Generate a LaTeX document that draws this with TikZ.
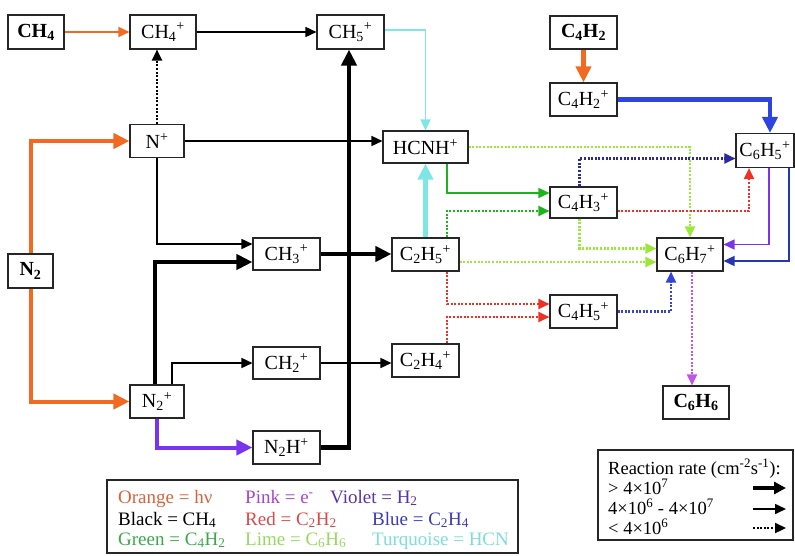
\documentclass[tikz,border=0pt]{standalone}
\usepackage{fontspec}
\setmainfont{Liberation Serif}
\usetikzlibrary{arrows.meta,calc}
\definecolor{cOrange}{HTML}{F26A21}
\definecolor{cTurq}{HTML}{7FE6E6}
\definecolor{cGreen}{HTML}{1DB31D}
\definecolor{cLime}{HTML}{9BE83A}
\definecolor{cRed}{HTML}{EE3124}
\definecolor{cBlue}{HTML}{2E44E0}
\definecolor{cNavy}{HTML}{2A2A9C}
\definecolor{cBlueDot}{HTML}{3344DD}
\definecolor{cViolet}{HTML}{7A33EE}
\definecolor{cPink}{HTML}{C055E8}
\definecolor{tOrange}{HTML}{D8643C}
\definecolor{tPink}{HTML}{A546C8}
\definecolor{tViolet}{HTML}{5A32A8}
\definecolor{tRed}{HTML}{D84A4A}
\definecolor{tBlue}{HTML}{3A3AB8}
\definecolor{tGreen}{HTML}{3AA84A}
\definecolor{tLime}{HTML}{98D860}
\definecolor{tTurq}{HTML}{7EDCDC}
\begin{document}
\begin{tikzpicture}[x=1pt,y=-1pt,
  box/.style={draw=black!85,line width=1.1pt,fill=white,inner sep=0pt,font=\fontsize{20}{22}\selectfont},
  bbox/.style={box,font=\fontsize{20}{22}\selectfont\bfseries},
  nrm/.style={line width=1.6pt,-{Triangle[length=11pt,width=10pt]}},
  thk/.style={line width=4.5pt,-{Triangle[length=16pt,width=15pt]}},
  dotl/.style={line width=2.2pt,dash pattern=on 2pt off 1.6pt,-{Triangle[length=11pt,width=10pt]}},
  legtxt/.style={anchor=base west,inner sep=0pt,font=\fontsize{19}{21}\selectfont},
  ratetxt/.style={anchor=base west,inner sep=0pt,font=\fontsize{18.5}{20}\selectfont},
  legbox/.style={draw=black!85,line width=1.4pt}]
\useasboundingbox (0,0) rectangle (795,555);
% nodes
\node[bbox,minimum width=56pt,minimum height=34pt] (CH4) at (36,32) {CH\textsubscript{4}};
\node[box,minimum width=66pt,minimum height=34pt] (CH4p) at (163,32) {CH\textsubscript{4}\textsuperscript{+}};
\node[box,minimum width=67pt,minimum height=34pt] (CH5p) at (350.5,32) {CH\textsubscript{5}\textsuperscript{+}};
\node[box,minimum width=54pt,minimum height=33pt] (Np) at (157,141) {N\textsuperscript{+}};
\node[box,minimum width=85pt,minimum height=32pt] (HCNH) at (425.5,147) {HCNH\textsuperscript{+}};
\node[bbox,minimum width=67pt,minimum height=33pt] (C4H2) at (583.5,32.5) {C\textsubscript{4}H\textsubscript{2}};
\node[box,minimum width=67pt,minimum height=33pt] (C4H2p) at (583.5,99.5) {C\textsubscript{4}H\textsubscript{2}\textsuperscript{+}};
\node[box,minimum width=58pt,minimum height=34pt] (C6H5p) at (765,150.5) {C\textsubscript{6}H\textsubscript{5}\textsuperscript{+}};
\node[box,minimum width=67pt,minimum height=31pt] (C4H3p) at (583.5,202.5) {C\textsubscript{4}H\textsubscript{3}\textsuperscript{+}};
\node[box,minimum width=67pt,minimum height=33pt] (C2H5p) at (425.5,254.5) {C\textsubscript{2}H\textsubscript{5}\textsuperscript{+}};
\node[box,minimum width=66pt,minimum height=33pt] (C6H7p) at (690,254.5) {C\textsubscript{6}H\textsubscript{7}\textsuperscript{+}};
\node[box,minimum width=67pt,minimum height=33pt] (C4H5p) at (583.5,311.5) {C\textsubscript{4}H\textsubscript{5}\textsuperscript{+}};
\node[box,minimum width=67pt,minimum height=33pt] (C2H4p) at (425.5,360.5) {C\textsubscript{2}H\textsubscript{4}\textsuperscript{+}};
\node[bbox,minimum width=66pt,minimum height=33pt] (C6H6) at (696,402.5) {C\textsubscript{6}H\textsubscript{6}};
\node[bbox,minimum width=45pt,minimum height=34pt] (N2) at (30.5,271) {N\textsubscript{2}};
\node[box,minimum width=67pt,minimum height=32pt] (CH3p) at (286.5,254) {CH\textsubscript{3}\textsuperscript{+}};
\node[box,minimum width=67pt,minimum height=32pt] (CH2p) at (286.5,363) {CH\textsubscript{2}\textsuperscript{+}};
\node[box,minimum width=54pt,minimum height=33pt] (N2p) at (157,401.5) {N\textsubscript{2}\textsuperscript{+}};
\node[box,minimum width=67pt,minimum height=33pt] (N2Hp) at (286.5,447.5) {N\textsubscript{2}H\textsuperscript{+}};
% connectors
\draw[nrm,cOrange] (CH4) -- (CH4p);
\draw[nrm] (CH4p) -- (CH5p);
\draw[dotl] (Np.north) -- (Np.north |- CH4p.south);
\draw[thk,cOrange,line width=4pt] (N2.north) |- (Np.west);
\draw[thk,cOrange,line width=4pt] (N2.south) |- (N2p.west);
\draw[nrm] (Np) -- (Np -| HCNH.west);
\draw[nrm] (Np.south) |- ($(CH3p.west)+(0,-10)$);
\draw[thk] ($(N2p.north)+(-2,0)$) |- ($(CH3p.west)+(0,8)$);
\draw[nrm] ($(N2p.north)+(15,0)$) |- (CH2p.west);
\draw[thk,cViolet,line width=4pt] (N2p.south) |- (N2Hp.west);
\draw[thk] (N2Hp.east) -| ($(CH5p.south)+(-1.5,0)$);
\draw[thk] (CH3p) -- (CH3p -| C2H5p.west);
\draw[nrm] (CH2p) -- (CH2p -| C2H4p.west);
\draw[nrm,cTurq] ($(CH5p.east)+(0,-2)$) -| (HCNH.north);
\draw[thk,cTurq] (C2H5p.north) -- (HCNH.south);
\draw[thk,cOrange] (C4H2) -- (C4H2p);
\draw[thk,cBlue] (C4H2p.east) -| ($(C6H5p.north)+(5,0)$);
\draw[nrm,cGreen] ($(HCNH.south)+(21.5,0)$) |- ($(C4H3p.west)+(0,-9.5)$);
\draw[dotl,cGreen] ($(C2H5p.north)+(21.5,0)$) |- ($(C4H3p.west)+(0,8.5)$);
\draw[dotl,cLime] (HCNH.east) -| (C6H7p.north);
\draw[dotl,cNavy] ($(C4H3p.north)+(-4,0)$) |- ($(C6H5p.west)+(0,8)$);
\draw[dotl,cRed] ($(C4H3p.east)+(0,8.5)$) -| ($(C6H5p.south)+(-16,0)$);
\draw[dotl,cLime] ($(C4H3p.south)+(-4,0)$) |- ($(C6H7p.west)+(0,-6)$);
\draw[dotl,cLime] ($(C2H5p.east)+(0,7.5)$) -- ($(C6H7p.west)+(0,7.5)$);
\draw[nrm,cViolet] ($(C6H5p.south)+(4,0)$) |- ($(C6H7p.east)+(0,-10)$);
\draw[nrm,cBlue!80!black] ($(C6H5p.south)+(24,0)$) |- ($(C6H7p.east)+(0,6.5)$);
\draw[dotl,cRed] ($(C2H5p.south)+(21.5,0)$) |- ($(C4H5p.west)+(0,-7.5)$);
\draw[dotl,cRed] ($(C2H4p.north)+(21.5,0)$) |- ($(C4H5p.west)+(0,5.5)$);
\draw[dotl,cBlueDot] (C4H5p.east) -| ($(C6H7p.south)+(-19,0)$);
\coordinate (pk) at ($(C6H7p.south)+(2,0)$);
\draw[dotl,cPink] (pk) -- (pk |- C6H6.north);
% colour legend
\draw[legbox] (107,480) rectangle (518,553);
\node[legtxt,text=tOrange] (l1) at (118,503) {Orange = hν};
\node[legtxt,text=tPink] (l2) at (245,503) {Pink = e\textsuperscript{-}};
\node[legtxt,text=tViolet] (l3) at (330,503) {Violet = H\textsubscript{2}};
\node[legtxt] (l4) at (118,525) {Black = CH\textsubscript{4}};
\node[legtxt,text=tRed] (l5) at (245,525) {Red = C\textsubscript{2}H\textsubscript{2}};
\node[legtxt,text=tBlue] (l6) at (372,525) {Blue = C\textsubscript{2}H\textsubscript{4}};
\node[legtxt,text=tGreen] (l7) at (118,545) {Green = C\textsubscript{4}H\textsubscript{2}};
\node[legtxt,text=tLime] (l8) at (245,545) {Lime = C\textsubscript{6}H\textsubscript{6}};
\node[legtxt,text=tTurq] (l9) at (372,545) {Turquoise = HCN};
% rate legend
\draw[legbox] (598,450) rectangle (793,540);
\node[ratetxt] (r0) at (608,474) {Reaction rate (cm\textsuperscript{-2}s\textsuperscript{-1}):};
\node[ratetxt] (r1) at (608,494) {> 4×10\textsuperscript{7}};
\node[ratetxt] (r2) at (608,514) {4×10\textsuperscript{6} - 4×10\textsuperscript{7}};
\node[ratetxt] (r3) at (608,534) {< 4×10\textsuperscript{6}};
\coordinate (a1s) at (753,488); \coordinate (a1e) at (786,488);
\coordinate (a2s) at (753,509); \coordinate (a2e) at (786,509);
\coordinate (a3s) at (753,528); \coordinate (a3e) at (786,528);
\draw[line width=4pt,-{Triangle[length=12pt,width=12pt]}] (a1s) -- (a1e);
\draw[nrm] (a2s) -- (a2e);
\draw[dotl] (a3s) -- (a3e);
\end{tikzpicture}
\end{document}
